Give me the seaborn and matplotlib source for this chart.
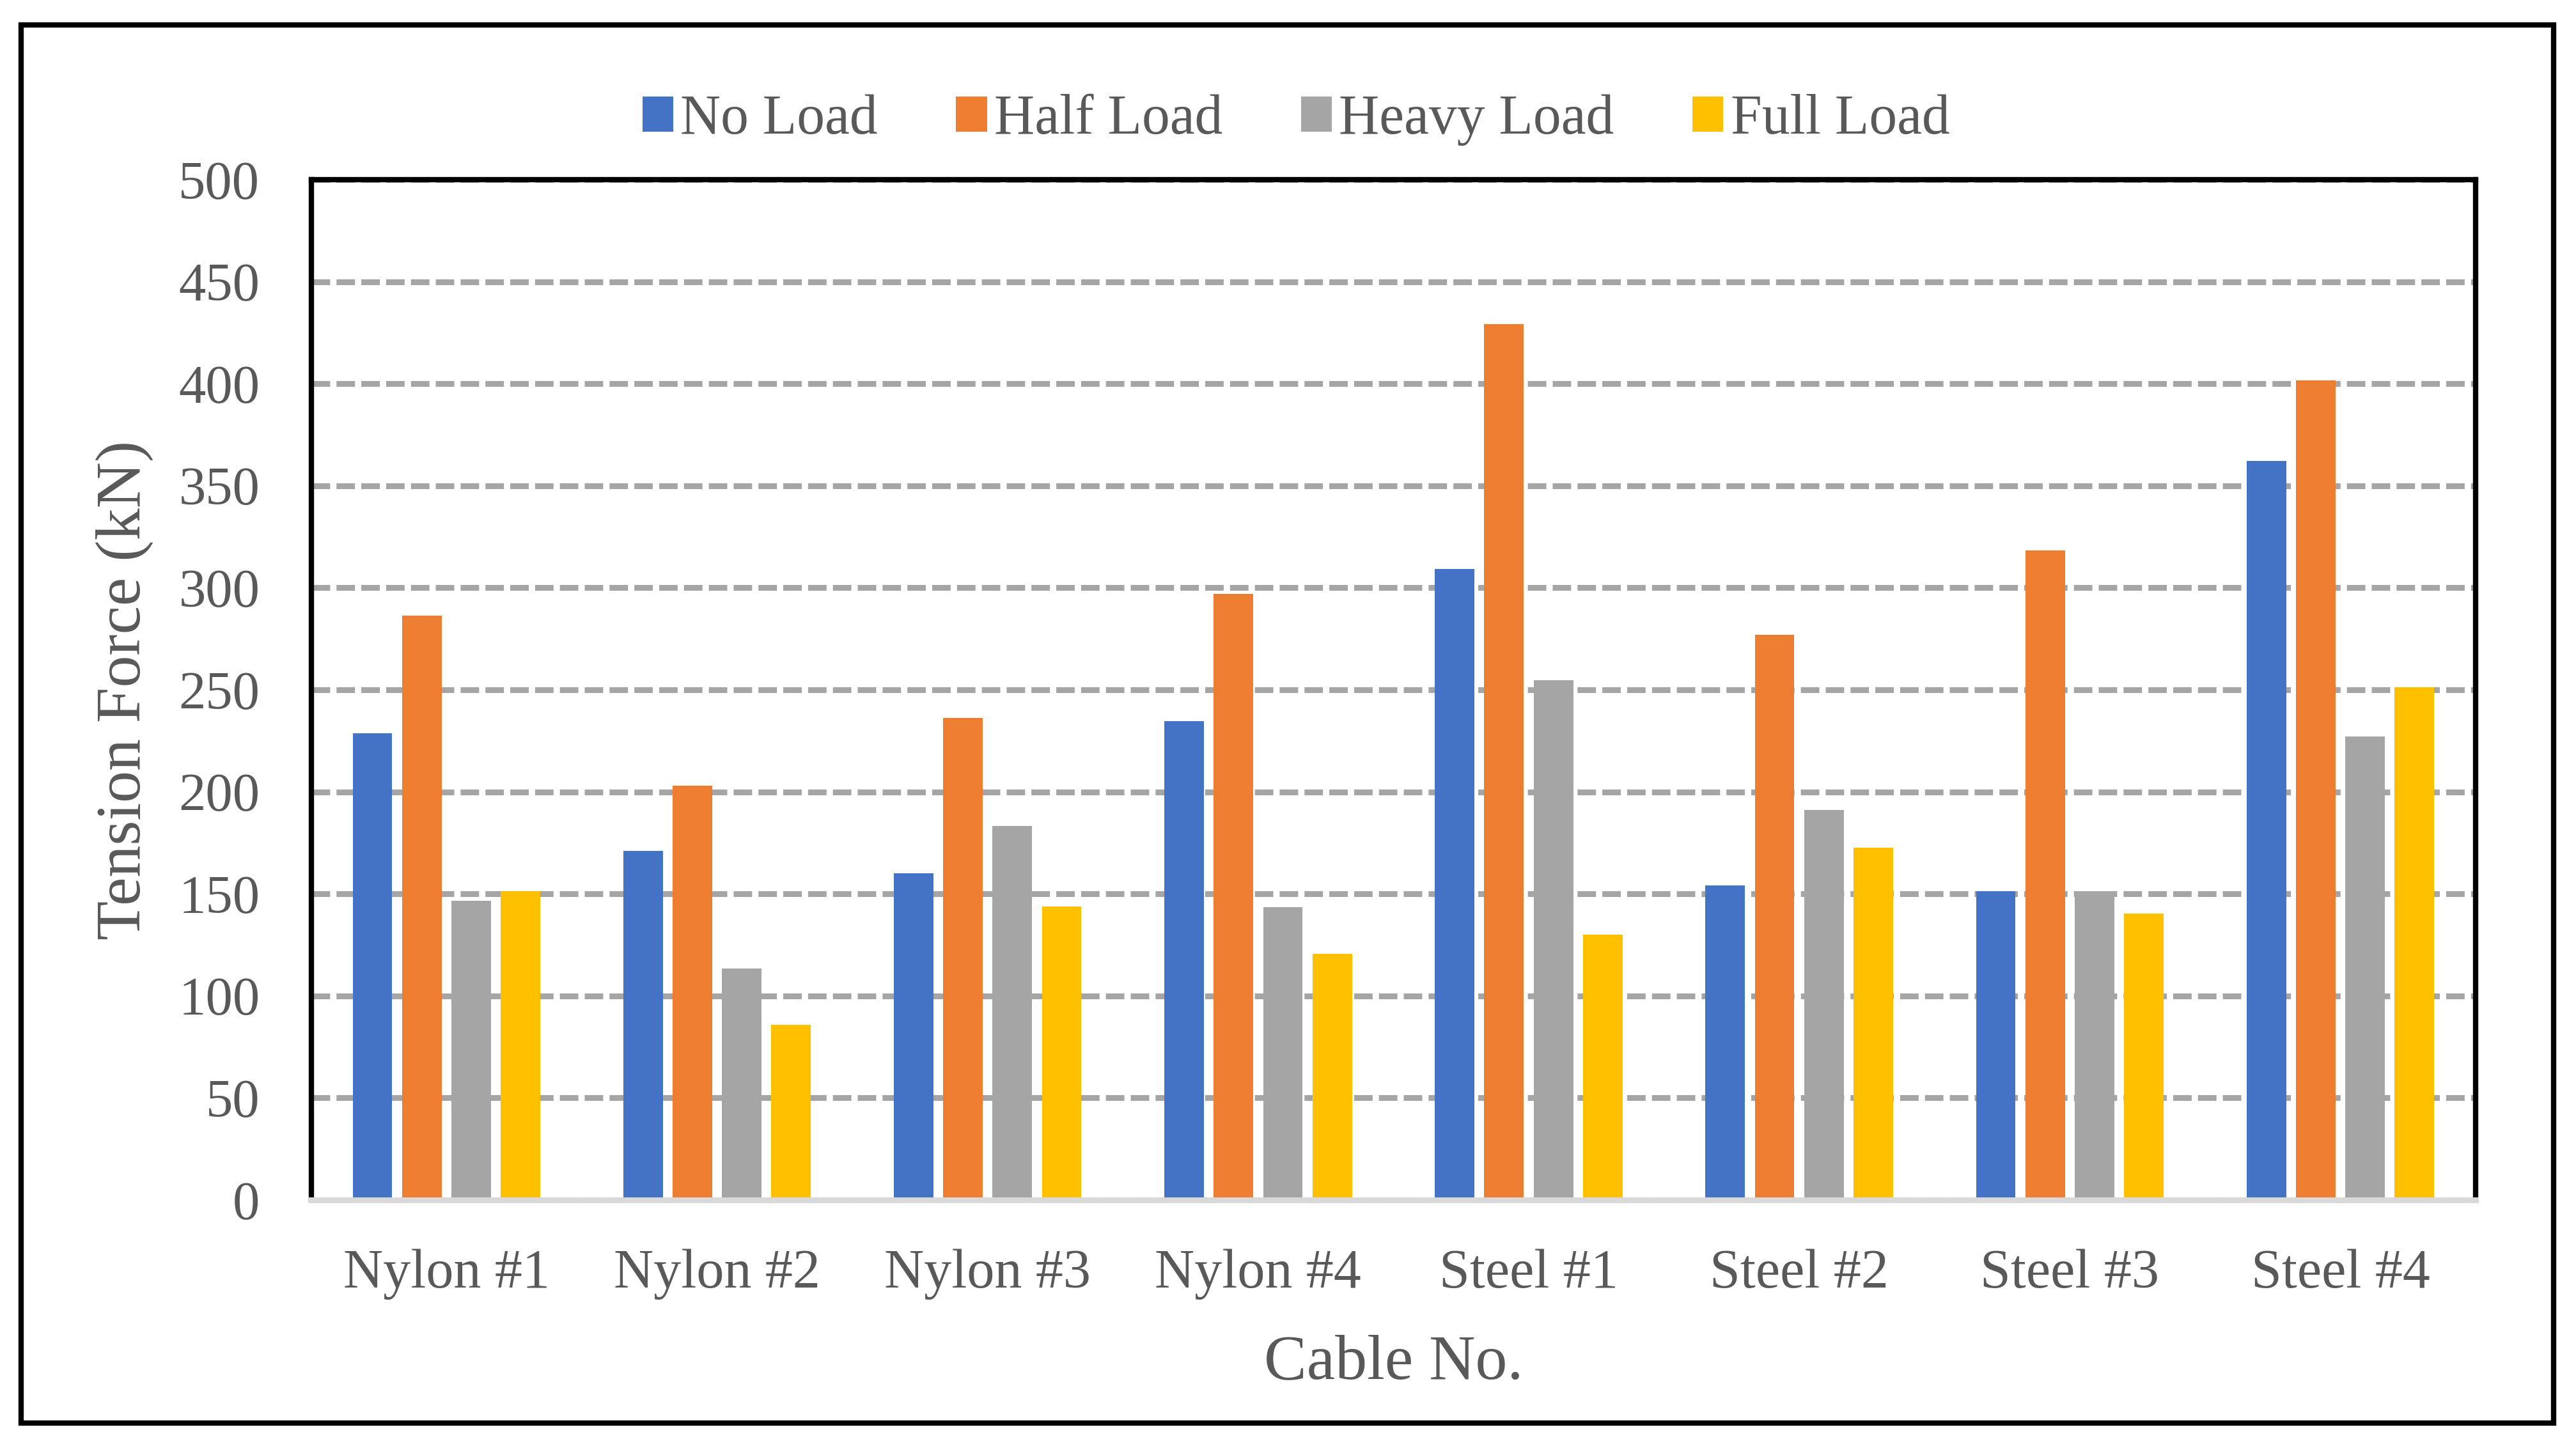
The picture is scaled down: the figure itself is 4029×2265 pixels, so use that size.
import pandas as pd
import seaborn as sns
import matplotlib.pyplot as plt
from matplotlib.patches import Rectangle

sns.set_style('white')
plt.rcParams['font.family'] = ['Liberation Serif', 'DejaVu Serif']

# 数据
cables = ['Nylon #1', 'Nylon #2', 'Nylon #3', 'Nylon #4',
          'Steel #1', 'Steel #2', 'Steel #3', 'Steel #4']
loads = ['No Load', 'Half Load', 'Heavy Load', 'Full Load']
no_load = [228.6, 171.2, 160.2, 234.6, 309.3, 154.2, 151.2, 362.2]
half_load = [286.3, 202.9, 236.1, 297.1, 429.2, 277.0, 318.3, 401.7]
heavy_load = [146.7, 113.3, 183.2, 143.5, 254.6, 191.0, 151.2, 227.1]
full_load = [151.2, 85.8, 143.8, 120.7, 130.0, 172.7, 140.5, 251.3]
colors = ['#4472C4', '#ED7D31', '#A5A5A5', '#FFC000']

df = pd.DataFrame({
    'Cable': cables * 4,
    'Load': [l for l in loads for _ in cables],
    'Force': no_load + half_load + heavy_load + full_load,
})

text_color = '#595959'

fig = plt.figure(figsize=(40.3, 22.65), dpi=100)
ax = fig.add_axes([0.1208, 0.1713, 0.9608 - 0.1208, 0.8759 - 0.1713])

sns.barplot(data=df, x='Cable', y='Force', hue='Load', hue_order=loads,
            order=cables, palette=colors, width=0.73, gap=0.2,
            linewidth=0, saturation=1, ax=ax, legend=True)

ax.set_ylim(0, 500)
ax.set_xlim(-0.5, 7.5)
ax.set_yticks(range(0, 501, 50))
ax.set_axisbelow(True)
ax.yaxis.grid(True, color='#A5A5A5', linewidth=6.5, linestyle=(0, (3.2, 1.1)))
ax.xaxis.grid(False)

for side in ['left', 'top', 'right']:
    ax.spines[side].set_color('black')
    ax.spines[side].set_linewidth(6)
ax.spines['bottom'].set_color('#D9D9D9')
ax.spines['bottom'].set_linewidth(6.5)

ax.tick_params(axis='y', length=0, pad=58, labelsize=61, labelcolor=text_color)
ax.tick_params(axis='x', length=0, pad=55, labelsize=62, labelcolor=text_color)

ax.set_xlabel('Cable No.', fontsize=72, color=text_color)
ax.set_ylabel('Tension Force (kN)', fontsize=72, color=text_color)
ax.xaxis.set_label_coords(0.5, -0.1315)
ax.yaxis.set_label_coords(-0.073, 0.5)

# 图例
handles, labels = ax.get_legend_handles_labels()
ax.get_legend().remove()
leg = fig.legend(handles, labels, loc='center', bbox_to_anchor=(0.503, 0.917),
                 ncol=4, frameon=False, fontsize=63, handlelength=0.55,
                 handleheight=0.58, handletextpad=0.13, columnspacing=1.4,
                 labelcolor=text_color)

# 外框
fig.add_artist(Rectangle((0.0082, 0.017), 0.991 - 0.0082, 0.983 - 0.017,
                         transform=fig.transFigure, fill=False,
                         linewidth=6, edgecolor='black'))

fig.savefig('out.png', dpi=100, facecolor='white')
